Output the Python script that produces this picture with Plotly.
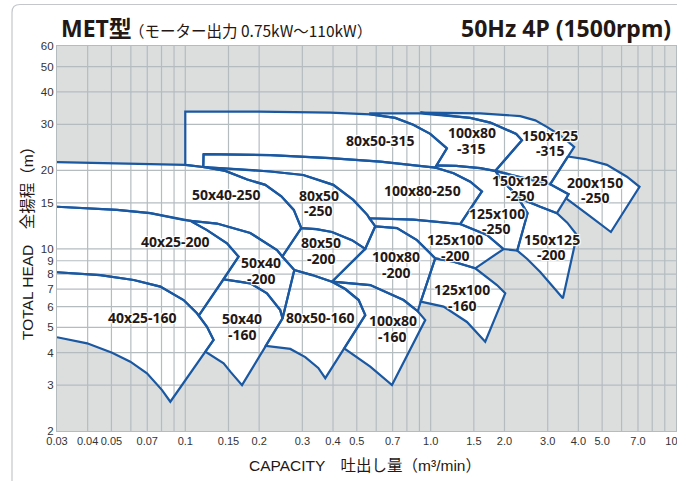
import numpy as np
import plotly.graph_objects as go

# ---------------- axis ticks ----------------
x_ticks = [0.03, 0.04, 0.05, 0.07, 0.1, 0.15, 0.2, 0.3, 0.4, 0.5, 0.7, 1.0, 1.5, 2.0, 3.0, 4.0, 5.0, 7.0, 10.0]
x_tick_text = ["0.03", "0.04", "0.05", "0.07", "0.1", "0.15", "0.2", "0.3", "0.4", "0.5", "0.7",
               "1.0", "1.5", "2.0", "3.0", "4.0", "5.0", "7.0", "10.0"]
y_ticks = [2, 3, 4, 5, 6, 7, 8, 9, 10, 15, 20, 30, 40, 50, 60]
x_grid = [0.04, 0.05, 0.06, 0.07, 0.08, 0.09, 0.1, 0.15, 0.2, 0.3, 0.4, 0.5, 0.6, 0.7, 0.8, 0.9,
          1.0, 1.5, 2, 3, 4, 5, 6, 7, 8, 9]
y_grid = [3, 4, 5, 6, 7, 8, 9, 10, 15, 20, 30, 40, 50]

# ---------------- pump zones (Q m3/min, H m) ----------------
z_40x25_160 = [(0.03, 8.13), (0.045, 7.93), (0.0616, 7.59), (0.0791, 7.16), (0.0984, 6.36), (0.1116, 5.66),
               (0.1226, 5.02), (0.1304, 4.47), (0.0869, 2.59), (0.0804, 2.87), (0.0698, 3.33), (0.0597, 3.69),
               (0.0503, 3.99), (0.0398, 4.34), (0.03, 4.58)]
z_40x25_200 = [(0.03, 14.5), (0.0527, 14.1), (0.072, 13.7), (0.0984, 12.9), (0.1048, 12.8), (0.1226, 11.8),
               (0.1479, 10.5), (0.1649, 9.33), (0.1433, 7.64), (0.1135, 5.54), (0.1116, 5.66), (0.0984, 6.36),
               (0.0791, 7.16), (0.0616, 7.59), (0.045, 7.93), (0.03, 8.13)]
z_50x40_160 = [(0.1433, 7.64), (0.184, 7.37), (0.2152, 6.75), (0.2438, 5.82), (0.2492, 5.41), (0.1703, 3.0),
               (0.1526, 3.38), (0.1433, 3.64), (0.1208, 4.03), (0.1304, 4.47), (0.1226, 5.02), (0.1135, 5.54)]
z_50x40_200 = [(0.1048, 12.8), (0.1346, 12.5), (0.184, 11.5), (0.2364, 9.9), (0.2485, 9.34), (0.2782, 8.29),
               (0.2492, 5.41), (0.2438, 5.82), (0.2152, 6.75), (0.184, 7.37), (0.1433, 7.64), (0.1649, 9.33),
               (0.1479, 10.5), (0.1226, 11.8)]
z_50x40_250 = [(0.03, 21.5), (0.0543, 21.3), (0.1, 21.0), (0.1184, 20.6), (0.1456, 19.9), (0.1789, 18.45),
               (0.2118, 17.6), (0.2462, 15.9), (0.2768, 14.1), (0.297, 12.0), (0.2485, 9.34), (0.2364, 9.9),
               (0.184, 11.5), (0.1346, 12.5), (0.1048, 12.8), (0.0984, 12.9), (0.072, 13.7), (0.0527, 14.1),
               (0.03, 14.5)]
z_80x50_160 = [(0.2782, 8.29), (0.3292, 7.93), (0.396, 7.48), (0.4488, 7.01), (0.5089, 6.36), (0.5414, 5.57),
               (0.372, 3.19), (0.3483, 3.49), (0.3083, 3.84), (0.2679, 4.13), (0.2126, 4.24), (0.2492, 5.41)]
z_80x50_200 = [(0.297, 12.0), (0.3419, 11.9), (0.396, 11.6), (0.4778, 10.8), (0.5414, 10.0), (0.396, 7.48),
               (0.3292, 7.93), (0.2782, 8.29), (0.2485, 9.34)]
z_80x50_250 = [(0.1184, 20.6), (0.1676, 20.2), (0.222, 19.8), (0.3026, 19.2), (0.4009, 17.6), (0.4836, 15.4),
               (0.5517, 13.5), (0.5947, 12.2), (0.5414, 10.0), (0.4778, 10.8), (0.396, 11.6), (0.3419, 11.9),
               (0.297, 12.0), (0.2768, 14.1), (0.2462, 15.9), (0.2118, 17.6), (0.1789, 18.45), (0.1456, 19.9)]
z_80x50_315 = [(0.1, 21.0), (0.1, 33.6), (0.1984, 33.6), (0.3898, 33.3), (0.5674, 32.8), (0.7173, 31.8),
               (0.8494, 29.9), (0.9963, 27.6), (1.165, 24.3), (1.044, 20.5), (0.6232, 21.6), (0.3898, 22.3),
               (0.222, 22.9), (0.1187, 23.1), (0.1184, 20.6)]
z_100x80_160 = [(0.396, 7.48), (0.5674, 7.26), (0.7756, 6.36), (0.886, 5.76), (0.9506, 5.33), (0.6957, 3.0),
                (0.5674, 3.53), (0.5023, 3.84), (0.4445, 4.15), (0.5414, 5.57), (0.5089, 6.36), (0.4488, 7.01)]
z_100x80_200 = [(0.5947, 12.2), (0.7291, 12.0), (0.8794, 10.8), (0.9658, 9.9), (1.044, 9.19), (0.9114, 6.27),
                (0.886, 5.76), (0.7756, 6.36), (0.5674, 7.26), (0.396, 7.48), (0.5414, 10.0)]
z_100x80_250 = [(0.1187, 23.1), (0.222, 22.9), (0.3898, 22.3), (0.6232, 21.6), (1.044, 20.5), (1.24, 19.5),
                (1.45, 18.1), (1.618, 16.6), (1.32, 12.45), (0.8518, 12.95), (0.5621, 13.1), (0.5517, 13.5),
                (0.4836, 15.4), (0.4009, 17.6), (0.3026, 19.2), (0.222, 19.8), (0.1676, 20.2), (0.1184, 20.6)]
z_100x80_315 = [(1.165, 24.3), (0.9963, 27.6), (0.8494, 29.9), (0.7173, 31.8), (0.5674, 32.8), (0.5674, 33.1),
                (0.9071, 33.1), (1.45, 31.8), (1.75, 30.5), (1.982, 29.0), (2.233, 27.6), (2.356, 26.1),
                (1.833, 19.9), (1.593, 20.4), (1.271, 20.8), (1.056, 20.9)]
z_125x100_160 = [(1.044, 9.19), (1.24, 8.92), (1.52, 8.42), (1.863, 7.26), (2.014, 6.75), (1.669, 4.4),
                 (1.406, 5.24), (1.129, 6.0), (0.9114, 6.27)]
z_125x100_200 = [(0.5621, 13.1), (0.8518, 12.95), (1.32, 12.45), (1.696, 11.3), (1.982, 9.98), (1.52, 8.42),
                 (1.24, 8.92), (1.044, 9.19), (0.9658, 9.9), (0.8794, 10.8), (0.7291, 12.0), (0.5947, 12.2)]
z_125x100_250 = [(1.056, 20.9), (1.271, 20.8), (1.593, 20.4), (1.833, 19.9), (1.976, 18.1), (2.15, 16.7),
                 (2.318, 15.2), (2.483, 13.7), (2.254, 9.85), (1.982, 9.98), (1.696, 11.3), (1.32, 12.45),
                 (1.618, 16.6), (1.45, 18.1), (1.24, 19.5), (1.044, 20.5)]
z_150x125_200 = [(1.976, 18.1), (2.318, 15.6), (2.797, 14.5), (3.271, 13.7), (3.603, 12.6), (3.946, 11.3),
                 (3.46, 6.46), (3.072, 7.39), (2.797, 8.15), (2.476, 9.14), (2.254, 9.85), (2.483, 13.7),
                 (2.318, 15.2), (2.15, 16.7)]
z_150x125_250 = [(1.833, 19.9), (2.43, 18.6), (3.072, 17.7), (3.647, 16.2), (3.271, 13.7), (2.797, 14.5),
                 (2.318, 15.6), (1.976, 18.1)]
z_150x125_315 = [(0.9071, 33.3), (1.593, 33.1), (2.318, 32.3), (2.669, 31.1), (2.987, 29.3), (3.28, 27.7),
                 (3.569, 26.1), (3.847, 24.6), (3.072, 17.7), (2.43, 18.6), (1.833, 19.9), (2.356, 26.1),
                 (2.233, 27.6), (1.982, 29.0), (1.75, 30.5), (1.45, 31.8), (0.9071, 33.1)]
z_200x150_250 = [(3.622, 22.6), (4.266, 22.1), (5.229, 21.0), (6.308, 18.9), (7.102, 17.3), (5.428, 11.6),
                 (4.388, 13.5), (3.957, 14.5), (3.566, 15.6), (3.647, 16.2), (3.072, 17.7)]

# (outline, closed?)  -- zones touching the left axis are left open there
zones = [
    (z_40x25_160, False), (z_40x25_200, False), (z_50x40_250, False),
    (z_50x40_160, True), (z_50x40_200, True), (z_80x50_160, True), (z_80x50_200, True),
    (z_80x50_250, True), (z_80x50_315, True), (z_100x80_160, True), (z_100x80_200, True),
    (z_100x80_250, True), (z_100x80_315, True), (z_125x100_160, True), (z_125x100_200, True),
    (z_125x100_250, True), (z_150x125_200, True), (z_150x125_250, True), (z_150x125_315, True),
    (z_200x150_250, True),
]

# ---------------- zone labels ----------------
label_text = ["80x50-315", "100x80\n-315", "150x125\n-315", "50x40-250", "80x50\n-250", "100x80-250",
              "150x125\n-250", "200x150\n-250", "125x100\n-250", "40x25-200", "50x40\n-200", "80x50\n-200",
              "100x80\n-200", "125x100\n-200", "150x125\n-200", "40x25-160", "50x40\n-160", "80x50-160",
              "100x80\n-160", "125x100\n-160"]
label_q = [0.6232, 1.473, 3.072, 0.1479, 0.3493, 0.930, 2.318, 4.685, 1.863, 0.0911, 0.2044, 0.3583,
           0.7241, 1.258, 3.121, 0.0671, 0.1703, 0.3549, 0.7021, 1.345]
label_h = [26.1, 26.0, 25.5, 16.2, 15.0, 16.7, 17.1, 16.8, 12.8, 10.65, 8.25, 9.85,
           8.7, 10.1, 10.16, 5.45, 5.02, 5.47, 4.95, 6.49]

BLUE = "#1a58a2"
GRID = "#b4bcc0"
BG = "#dcdede"
TXT = "#231815"

fig = go.Figure()

# white fills
for pts, closed in zones:
    q = [p[0] for p in pts]
    h = [p[1] for p in pts]
    fig.add_trace(go.Scatter(x=q, y=h, mode="none", fill="toself", fillcolor="white",
                             hoverinfo="skip", showlegend=False))

# grid lines (over the white zones)
gx, gy = [], []
for v in x_grid:
    gx += [v, v, None]
    gy += [y_ticks[0], y_ticks[-1], None]
fig.add_trace(go.Scatter(x=gx, y=gy, mode="lines", line=dict(color=GRID, width=1.2),
                         hoverinfo="skip", showlegend=False))
hx, hy = [], []
for v in y_grid:
    hx += [x_ticks[0], x_ticks[-1], None]
    hy += [v, v, None]
fig.add_trace(go.Scatter(x=hx, y=hy, mode="lines", line=dict(color=GRID, width=1.2),
                         hoverinfo="skip", showlegend=False))

# blue outlines
for pts, closed in zones:
    q = [p[0] for p in pts]
    h = [p[1] for p in pts]
    if closed:
        q = q + [q[0]]
        h = h + [h[0]]
    fig.add_trace(go.Scatter(x=q, y=h, mode="lines", line=dict(color=BLUE, width=2.2),
                             hoverinfo="skip", showlegend=False))

annotations = []
LINE = 15.7
for t, q, h in zip(label_text, label_q, label_h):
    lines = t.split("\n")
    n = len(lines)
    for i, ln in enumerate(lines):
        annotations.append(dict(
            x=np.log10(q), y=np.log10(h), xref="x", yref="y", text="<b>" + ln + "</b>",
            showarrow=False, xanchor="center", yanchor="middle",
            yshift=(n - 1) / 2 * LINE - i * LINE,
            font=dict(family="Noto Sans, Open Sans, sans-serif", size=14, color=TXT,
                      shadow="1px 1px 1px #fff, -1px -1px 1px #fff, 1px -1px 1px #fff, -1px 1px 1px #fff")))

L, R, T, B = 57, 1, 46, 50
W, H = 677, 481
PW, PH = W - L - R, H - T - B


def px(xp):
    return (xp - L) / PW


def py(yp):
    return (H - B - yp) / PH


annotations += [
    dict(x=px(59), y=py(28), xref="paper", yref="paper", text="<b>MET型</b>", showarrow=False,
         xanchor="left", yanchor="middle",
         font=dict(family="Noto Sans, Noto Sans CJK JP", size=23, color=TXT)),
    dict(x=px(127), y=py(30), xref="paper", yref="paper", text="（モーター出力 0.75kW～110kW）",
         showarrow=False, xanchor="left", yanchor="middle",
         font=dict(family="Noto Sans CJK JP", size=15.5, color=TXT)),
    dict(x=px(673), y=py(28), xref="paper", yref="paper", text="<b>50Hz 4P (1500rpm)</b>",
         showarrow=False, xanchor="right", yanchor="middle",
         font=dict(family="Noto Sans", size=23, color=TXT)),
    dict(x=px(365), y=py(466), xref="paper", yref="paper", text="CAPACITY　吐出し量（m³/min）",
         showarrow=False, xanchor="center", yanchor="middle",
         font=dict(family="Liberation Sans, Noto Sans CJK JP", size=15.5, color=TXT)),
    dict(x=px(28), y=py(240), xref="paper", yref="paper", text="TOTAL HEAD　全揚程（m）",
         showarrow=False, xanchor="center", yanchor="middle", textangle=-90,
         font=dict(family="Liberation Sans, Noto Sans CJK JP", size=15.5, color=TXT)),
]

x0 = px(12)
ytop = py(4.5)
rx, ry = 8 / PW, 8 / PH
frame = dict(type="path", xref="paper", yref="paper",
             path=f"M {x0},{py(500)} L {x0},{ytop - ry} Q {x0},{ytop} {x0 + rx},{ytop} L {px(700)},{ytop}",
             line=dict(color="#c3c7c9", width=1.2), layer="above")

xtickfont = dict(family="Liberation Sans Narrow, Liberation Sans, Arial", size=11, color="#333333")
ytickfont = dict(family="Liberation Sans Narrow, Liberation Sans, Arial", size=11.5, color="#333333")
fig.update_layout(
    width=W, height=H, margin=dict(l=L, r=R, t=T, b=B, autoexpand=False),
    paper_bgcolor="white", plot_bgcolor=BG,
    showlegend=False,
    xaxis=dict(type="log", range=[np.log10(x_ticks[0]), np.log10(x_ticks[-1])], showgrid=False,
               zeroline=False, showline=True, mirror=True, linecolor=GRID, linewidth=1.2,
               tickvals=x_ticks, ticktext=x_tick_text, ticks="", tickangle=0, tickfont=xtickfont,
               ticklabeloverflow="allow", automargin=False, fixedrange=True),
    yaxis=dict(type="log", range=[np.log10(y_ticks[0]), np.log10(y_ticks[-1])], showgrid=False,
               zeroline=False, showline=True, mirror=True, linecolor=GRID, linewidth=1.2,
               tickvals=y_ticks, ticktext=[str(v) for v in y_ticks], ticks="", tickfont=ytickfont,
               automargin=False, fixedrange=True),
    annotations=annotations,
    shapes=[frame],
)

fig.write_html("out.html", config={"displayModeBar": False},
               post_script="document.body.style.margin='0';document.body.style.padding='0';"
                           "document.documentElement.style.overflow='hidden';")
